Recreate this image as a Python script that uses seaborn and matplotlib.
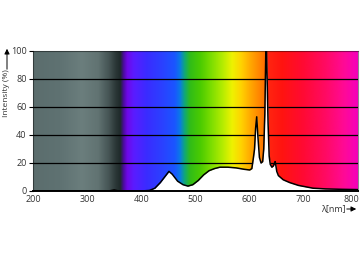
import numpy as np
import pandas as pd
import matplotlib
matplotlib.use("Agg")
import matplotlib.pyplot as plt
from matplotlib.colors import LinearSegmentedColormap, to_rgb
import seaborn as sns

# ---- data ----
wavelength = [200, 340, 345, 350, 355, 360, 400, 415, 425, 435, 445, 451, 457, 467, 477, 486,
              495, 505, 515, 525, 535, 545, 560, 575, 590, 600, 604, 607, 609, 611, 613,
              615, 618, 621, 624, 626, 628, 629, 630, 631, 632, 633, 634, 636, 638, 641,
              644, 646, 647, 648, 650, 653, 656, 662, 674, 690, 717, 740, 770, 800]
intensity = [0, 0, 0.4, 0.8, 0.3, 0, 0, 0.4, 2, 6, 11, 14, 12, 7, 4.5, 3.5,
             4.5, 7.5, 11.5, 14.5, 16, 17, 17, 16.5, 15.5, 15, 16, 24, 30, 45, 53,
             40, 24, 20, 21, 30, 55, 80, 104, 104, 85, 66, 48, 25, 19, 17,
             18, 20, 21, 19, 14, 11, 10, 8, 6, 4, 2, 1.5, 1.2, 1]

x_ticks = [200, 300, 400, 500, 600, 700, 800]
y_ticks = [0, 20, 40, 60, 80, 100]

# spectrum background colour stops (wavelength, colour)
spec_wl = [200, 250, 290, 320, 340, 352, 361, 367, 374, 386, 410, 440, 462, 471, 480,
           490, 510, 530, 550, 568, 585, 600, 615, 628.5, 631, 660, 700, 740, 775, 800]
spec_col = ["#5b6d6d", "#5f7272", "#6b7e7d", "#617372", "#455454", "#2c3838", "#1f2a2a",
            "#4a0c9c", "#6e08e8", "#5a1cff", "#3a2cff", "#2a42ff", "#1a56ff", "#0a78e8",
            "#10a878", "#30bc18", "#4ccc00", "#7ede00", "#b4ec00", "#eef200", "#ffd200",
            "#ffac00", "#ff8c00", "#ff6e00", "#ff2810", "#ff1410", "#ff0a34", "#ff0a62",
            "#ff0a96", "#f500bc"]

# ---- figure ----
sns.set_theme(style="white")
plt.rcParams["font.family"] = ["Open Sans", "DejaVu Sans"]

W, H = 360, 262
fig = plt.figure(figsize=(W / 100, H / 100), dpi=100)
ax = fig.add_axes([33 / W, 1 - 191 / H, 325 / W, 140 / H])

lo, hi = spec_wl[0], spec_wl[-1]
stops = [((w - lo) / (hi - lo), to_rgb(c)) for w, c in zip(spec_wl, spec_col)]
cmap = LinearSegmentedColormap.from_list("spectrum", stops, N=1024)
grad = np.linspace(0, 1, 1200).reshape(1, -1)
ax.imshow(grad, cmap=cmap, aspect="auto", extent=[200, 800, 0, 100],
          interpolation="bilinear", zorder=0)

for yv in y_ticks[1:-1]:
    ax.axhline(yv, color="black", lw=0.9, zorder=1)

df = pd.DataFrame({"wavelength": wavelength, "intensity": intensity})
ax.fill_between(df["wavelength"], 0, df["intensity"], color="white", lw=0, zorder=2)
sns.lineplot(data=df, x="wavelength", y="intensity", color="black", lw=1.1, ax=ax,
             zorder=3, clip_on=True)

ax.set_xlim(200, 800)
ax.set_ylim(0, 100)
ax.set_xticks(x_ticks)
ax.set_yticks(y_ticks)
ax.set_xlabel("")
ax.set_ylabel("")
tc = "#333333"
ax.tick_params(axis="both", labelsize=6.5, colors=tc, pad=1.5)
ax.tick_params(axis="y", length=3, width=0.8, color="black", direction="out", left=True)
ax.tick_params(axis="x", length=0, pad=3)
for lab in ax.get_xticklabels():
    if lab.get_text() == "800":
        lab.set_ha("right")
        lab.set_x(lab.get_position()[0])
# shift last label slightly so it sits like the reference
labs = ax.get_xticklabels()
labs[-1].set_horizontalalignment("right")
labs[-1].set_transform(labs[-1].get_transform() +
                       matplotlib.transforms.ScaledTranslation(1 / 100, 0, fig.dpi_scale_trans))

for s in ["top", "right", "left"]:
    ax.spines[s].set_visible(True)
    ax.spines[s].set_color("black")
    ax.spines[s].set_alpha(0.45)
    ax.spines[s].set_linewidth(0.8)
ax.spines["bottom"].set_color("black")
ax.spines["bottom"].set_linewidth(1.4)
ax.spines["bottom"].set_zorder(4)

# axis labels with arrows (figure pixel coords)
def fx(px):
    return px / W

def fy(py):
    return 1 - py / H

fig.text(fx(7), fy(93), "Intensity (%)", rotation=90, ha="center", va="center",
         fontsize=6, color=tc)
fig.add_artist(matplotlib.patches.FancyArrowPatch((fx(7), fy(72)), (fx(7), fy(46)),
               transform=fig.transFigure, arrowstyle="-|>,head_length=3,head_width=1.5",
               color="black", lw=0.7))
fig.text(fx(333), fy(209), "λ[nm]", ha="center", va="center", fontsize=6.5, color=tc)
fig.add_artist(matplotlib.patches.FancyArrowPatch((fx(344), fy(209)), (fx(359), fy(209)),
               transform=fig.transFigure, arrowstyle="-|>,head_length=3,head_width=1.5",
               color="black", lw=0.7))

fig.savefig("out.png", dpi=100)
